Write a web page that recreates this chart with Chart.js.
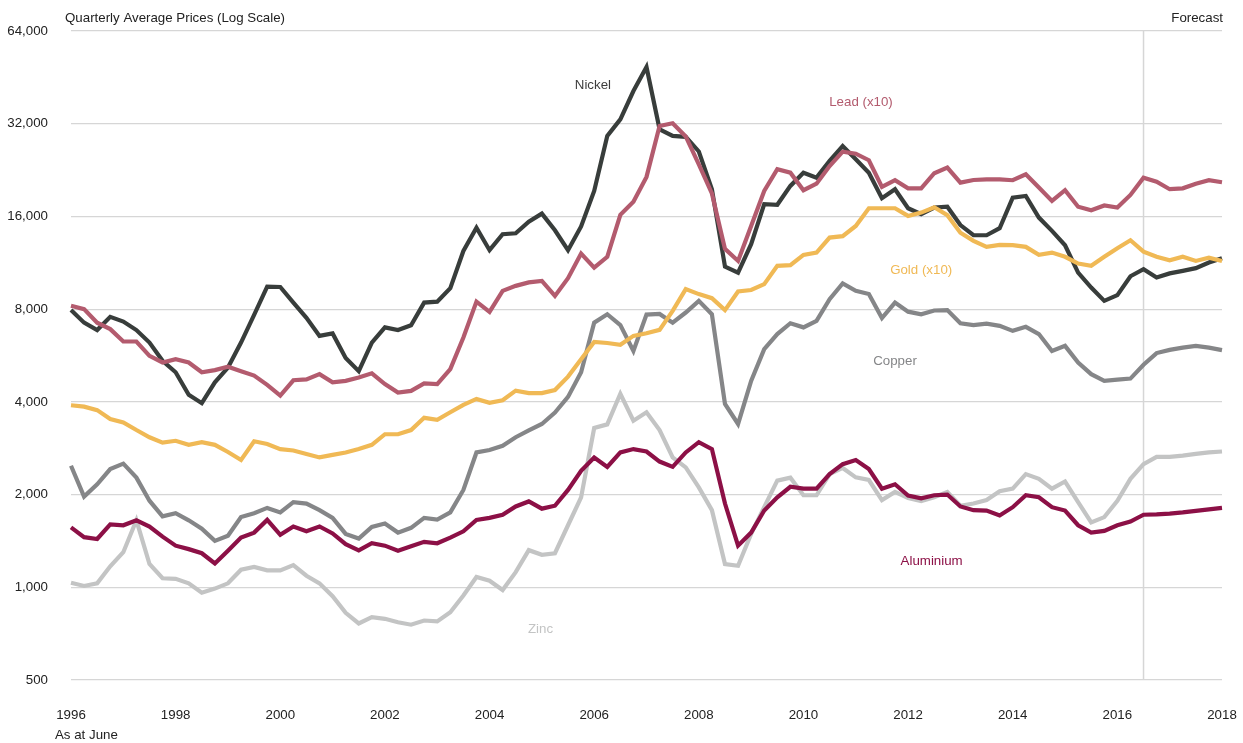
<!DOCTYPE html>
<html>
<head>
<meta charset="utf-8">
<script src="https://cdn.jsdelivr.net/npm/chart.js@4.4.1/dist/chart.umd.min.js"></script>
<style>
  html, body { margin: 0; padding: 0; background: #fff; }
</style>
</head>
<body>
<canvas id="chart" width="1243" height="743"></canvas>
<script>
// quarterly averages, June 1996 .. June 2018 (89 quarters)
const startYear = 1996;
const quarters = [];
for (let i = 0; i < 89; i++) {
  quarters.push(`${startYear + Math.floor((i + 1) / 4)} Q${((i + 1) % 4) + 1}`);
}
const yearLabels = ['1996', '1998', '2000', '2002', '2004', '2006', '2008', '2010', '2012', '2014', '2016', '2018'];
const yTicks = [500, 1000, 2000, 4000, 8000, 16000, 32000, 64000];
const forecastIndex = 82;

const nickel = [
  7950, 7230, 6840, 7550, 7290, 6840, 6230, 5440, 4990, 4220,
  3960, 4630, 5170, 6230, 7660, 9470, 9440, 8400, 7500, 6550,
  6670, 5550, 5030, 6230, 6980, 6840, 7090, 8400, 8460, 9360,
  12360, 14710, 12430, 14010, 14110, 15390, 16340, 14430, 12430, 14850,
  19360, 29200, 33070, 40850, 48870, 30700, 29200, 29000, 26000, 19600,
  11000, 10510, 13000, 17530, 17450, 20100, 22190, 21380, 24220, 27080,
  24530, 22190, 18340, 19610, 17010, 16270, 17090, 17200, 15000, 13900,
  13900, 14650, 18420, 18650, 15860, 14360, 12900, 10510, 9400, 8510,
  8880, 10230, 10790, 10130, 10450, 10650, 10870, 11330, 11710
];
const lead = [
  8200, 8000, 7230, 6890, 6280, 6280, 5640, 5370, 5500, 5370,
  4990, 5070, 5200, 5030, 4870, 4540, 4190, 4700, 4730, 4920,
  4630, 4680, 4800, 4950, 4570, 4290, 4340, 4590, 4570, 5110,
  6470, 8460, 7840, 9170, 9520, 9770, 9880, 8830, 10080, 12120,
  10910, 11830, 16200, 17850, 21500, 31450, 32100, 29100, 23600, 19000,
  12550, 11470, 14900, 19360, 22770, 22190, 19460, 20440, 23330, 25960,
  25570, 24350, 19940, 20970, 19740, 19740, 22100, 23040, 20590, 21010,
  21090, 21090, 20970, 21930, 19850, 17960, 19460, 17200, 16760, 17370,
  17090, 18790, 21380, 20750, 19610, 19740, 20440, 20970, 20660
];
const gold = [
  3900, 3860, 3760, 3520, 3430, 3240, 3070, 2950, 2990, 2900,
  2960, 2900, 2750, 2590, 2980, 2920, 2810, 2780, 2710, 2640,
  2690, 2740, 2810, 2900, 3140, 3140, 3240, 3550, 3500, 3700,
  3910, 4090, 3970, 4050, 4350, 4270, 4270, 4370, 4830, 5500,
  6260, 6210, 6130, 6550, 6680, 6850, 7900, 9290, 8950, 8680,
  7940, 9130, 9230, 9640, 11060, 11110, 12000, 12210, 13660, 13800,
  14900, 17010, 17010, 17010, 16060, 16460, 17130, 16150, 14170, 13330,
  12740, 12930, 12900, 12740, 12000, 12210, 11830, 11250, 11060, 11830,
  12620, 13390, 12300, 11830, 11530, 11830, 11470, 11760, 11470
];
const copper = [
  2480, 1970, 2160, 2420, 2520, 2270, 1910, 1700, 1740, 1650,
  1550, 1415, 1470, 1690, 1740, 1810, 1750, 1890, 1870, 1780,
  1680, 1490, 1440, 1570, 1610, 1505, 1560, 1680, 1660, 1750,
  2070, 2740, 2790, 2880, 3070, 3230, 3390, 3690, 4150, 4990,
  7230, 7700, 7100, 5850, 7680, 7720, 7230, 7800, 8510, 7700,
  3940, 3390, 4680, 5930, 6640, 7200, 6980, 7330, 8620, 9690,
  9170, 8960, 7480, 8400, 7850, 7700, 7920, 7940, 7200, 7100,
  7180, 7060, 6800, 7010, 6640, 5850, 6080, 5370, 4920, 4680,
  4720, 4760, 5280, 5760, 5900, 6000, 6080, 6000, 5890
];
const aluminium = [
  1565, 1455, 1435, 1600, 1590, 1650, 1575, 1460, 1365, 1330,
  1290, 1195, 1315, 1450, 1505, 1655, 1480, 1575, 1520, 1575,
  1495, 1380, 1318, 1390, 1365, 1315, 1360, 1405, 1390, 1450,
  1520, 1655, 1680, 1720, 1830, 1900, 1800, 1840, 2070, 2390,
  2640, 2460, 2740, 2810, 2760, 2560, 2460, 2740, 2960, 2810,
  1870, 1365, 1505, 1775, 1960, 2120, 2090, 2090, 2330, 2510,
  2590, 2420, 2090, 2160, 1985, 1945, 1990, 2000, 1830, 1780,
  1775, 1710, 1820, 1990, 1960, 1820, 1775, 1590, 1505, 1525,
  1590, 1635, 1720, 1725, 1735, 1750, 1770, 1790, 1810
];
const zinc = [
  1035, 1010, 1030, 1170, 1300, 1650, 1190, 1070, 1065, 1030,
  960, 990, 1030, 1140, 1165, 1135, 1135, 1180, 1090, 1030,
  935, 826, 763, 800, 790, 770, 756, 780, 775, 830,
  940, 1080, 1050, 980, 1120, 1320, 1275, 1290, 1590, 1960,
  3290, 3380, 4250, 3475, 3700, 3240, 2640, 2450, 2110, 1780,
  1190, 1175, 1490, 1820, 2220, 2270, 1990, 1990, 2330, 2440,
  2275, 2230, 1920, 2040, 1950, 1905, 1960, 2040, 1840, 1870,
  1920, 2050, 2090, 2330, 2250, 2090, 2205, 1890, 1625, 1690,
  1910, 2250, 2510, 2650, 2650, 2675, 2710, 2740, 2760
];

// series name, data, colour, label anchor [quarter index, value]
const series = [
  { name: 'Lead (x10)', data: lead, color: '#b35b6e', at: [60.4, 37600] },
  { name: 'Gold (x10)', data: gold, color: '#f0b955', at: [65.0, 10730] },
  { name: 'Nickel', data: nickel, color: '#383d3b', text: '#3d3d3d', at: [39.9, 42700] },
  { name: 'Copper', data: copper, color: '#858688', at: [63.0, 5400] },
  { name: 'Aluminium', data: aluminium, color: '#8c1046', at: [65.8, 1212] },
  { name: 'Zinc', data: zinc, color: '#c3c4c4', at: [35.9, 728] }
];

const FONT = '"Liberation Sans", Arial, sans-serif';
const FONT_SIZE = 13.3;
Chart.defaults.font.family = FONT;
Chart.defaults.font.size = FONT_SIZE;
Chart.defaults.color = '#222';

// extra text, forecast divider and line labels
const annotations = {
  id: 'annotations',
  beforeDatasetsDraw(chart) {
    const { ctx, chartArea, scales } = chart;
    const x = scales.x.getPixelForValue(forecastIndex);
    ctx.save();
    ctx.strokeStyle = '#d6d6d6';
    ctx.lineWidth = 1.5;
    ctx.beginPath();
    ctx.moveTo(x, chartArea.top);
    ctx.lineTo(x, chartArea.bottom);
    ctx.stroke();
    ctx.restore();
  },
  afterDatasetsDraw(chart) {
    const { ctx, chartArea, scales } = chart;
    ctx.save();
    ctx.font = `${FONT_SIZE}px ${FONT}`;
    ctx.textBaseline = 'middle';
    ctx.fillStyle = '#222';
    ctx.textAlign = 'left';
    ctx.fillText('Quarterly Average Prices (Log Scale)', 65, 18);
    ctx.fillText('As at June', 55, 735);
    ctx.textAlign = 'right';
    ctx.fillText('Forecast', chartArea.right + 1, 18);

    ctx.textAlign = 'center';
    series.forEach(s => {
      ctx.fillStyle = s.text || s.color;
      ctx.fillText(s.name, scales.x.getPixelForValue(s.at[0]), scales.y.getPixelForValue(s.at[1]));
    });
    ctx.restore();
  }
};

new Chart(document.getElementById('chart'), {
  type: 'line',
  data: {
    labels: quarters,
    datasets: series.map(s => ({
      label: s.name,
      data: s.data,
      borderColor: s.color,
      backgroundColor: s.color,
      borderWidth: 4.2,
      pointRadius: 0,
      tension: 0,
      fill: false
    }))
  },
  options: {
    responsive: false,
    animation: false,
    layout: { padding: { top: 30, right: 21, left: 0, bottom: 0 } },
    plugins: { legend: { display: false }, tooltip: { enabled: false } },
    scales: {
      x: {
        type: 'category',
        offset: false,
        grid: { display: false, drawTicks: false },
        border: { display: false },
        ticks: {
          autoSkip: false,
          maxRotation: 0,
          padding: 27,
          color: '#222',
          callback: (v, i) => (i % 8 === 0 ? yearLabels[i / 8] : '')
        },
        afterFit: s => {
          s.height = 63;
          // the end labels may hang over the plot edges
          s.paddingLeft = 0;
          s.paddingRight = 0;
        }
      },
      y: {
        type: 'logarithmic',
        min: 500,
        max: 64000,
        grid: { color: '#d6d6d6', lineWidth: 1.2, drawTicks: false },
        border: { display: false },
        afterBuildTicks: s => { s.ticks = yTicks.map(v => ({ value: v })); },
        ticks: {
          padding: 23,
          color: '#222',
          callback: v => Number(v).toLocaleString('en-US')
        },
        afterFit: s => { s.width = 71; }
      }
    }
  },
  plugins: [annotations]
});
</script>
</body>
</html>
